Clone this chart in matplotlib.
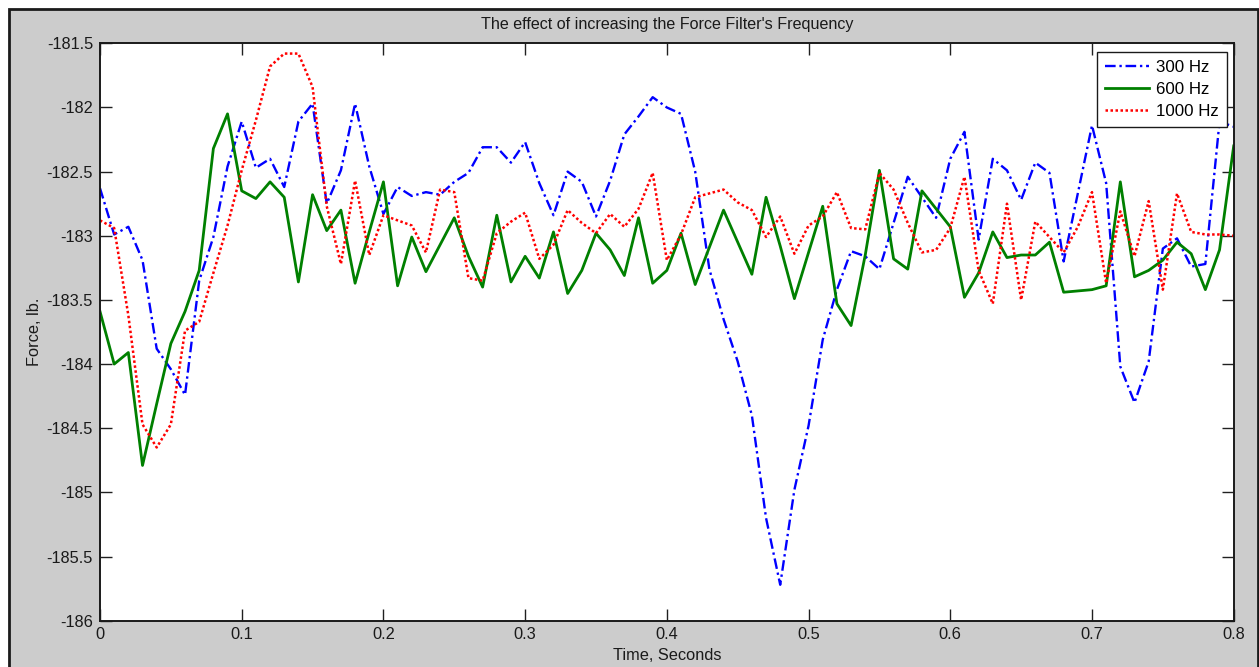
import numpy as np
import matplotlib
matplotlib.use("Agg")
import matplotlib.pyplot as plt
from matplotlib.patches import Rectangle

plt.rcParams['font.family'] = ['Liberation Sans', 'DejaVu Sans']

# Sample times (s)
time = np.round(np.arange(0, 0.801, 0.01), 2)

force_300 = [
    -182.63, -182.99, -182.93, -183.19, -183.88, -184.04, -184.24, -183.35, -183.01, -182.46,
    -182.11, -182.47, -182.40, -182.62, -182.11, -181.97, -182.75, -182.49, -181.97, -182.46,
    -182.83, -182.62, -182.69, -182.66, -182.68, -182.58, -182.51, -182.31, -182.31, -182.43,
    -182.27, -182.59, -182.84, -182.50, -182.58, -182.85, -182.57, -182.21, -182.07, -181.92,
    -182.00, -182.05, -182.50, -183.26, -183.65, -183.98, -184.40, -185.20, -185.72, -184.98,
    -184.48, -183.81, -183.42, -183.12, -183.16, -183.26, -182.90, -182.54, -182.70, -182.86,
    -182.40, -182.19, -183.03, -182.40, -182.49, -182.72, -182.43, -182.51, -183.20, -182.67,
    -182.14, -182.59, -184.02, -184.30, -183.98, -183.10, -183.02, -183.24, -183.22, -182.11,
    -182.15,
]

force_600 = [
    -183.59, -184.00, -183.91, -184.79, -184.31, -183.84, -183.59, -183.27, -182.32, -182.05,
    -182.65, -182.71, -182.58, -182.70, -183.36, -182.68, -182.96, -182.80, -183.37, -182.97,
    -182.58, -183.39, -183.01, -183.28, -183.07, -182.86, -183.16, -183.40, -182.84, -183.36,
    -183.16, -183.33, -182.97, -183.45, -183.27, -182.98, -183.11, -183.31, -182.86, -183.37,
    -183.27, -182.98, -183.38, -183.09, -182.80, -183.05, -183.30, -182.70, -183.08, -183.49,
    -183.13, -182.77, -183.53, -183.70, -183.15, -182.49, -183.18, -183.26, -182.65, -182.79,
    -182.93, -183.48, -183.29, -182.97, -183.17, -183.15, -183.15, -183.05, -183.44, -183.43,
    -183.42, -183.39, -182.58, -183.32, -183.27, -183.19, -183.05, -183.14, -183.42, -183.11,
    -182.30,
]

force_1000 = [
    -182.88, -182.94, -183.62, -184.47, -184.65, -184.47, -183.74, -183.67, -183.29, -182.92,
    -182.49, -182.10, -181.68, -181.58, -181.58, -181.84, -182.77, -183.22, -182.57, -183.15,
    -182.84, -182.88, -182.92, -183.13, -182.64, -182.66, -183.33, -183.35, -182.98, -182.89,
    -182.82, -183.18, -183.07, -182.80, -182.90, -182.98, -182.83, -182.93, -182.79, -182.51,
    -183.19, -182.99, -182.70, -182.67, -182.64, -182.74, -182.80, -183.01, -182.85, -183.14,
    -182.92, -182.85, -182.66, -182.94, -182.95, -182.51, -182.64, -182.90, -183.13, -183.11,
    -182.94, -182.54, -183.27, -183.53, -182.75, -183.50, -182.89, -183.01, -183.13, -182.93,
    -182.66, -183.37, -182.81, -183.16, -182.73, -183.42, -182.67, -182.97, -182.99, -182.99,
    -183.00,
]

series_labels = ["300 Hz", "600 Hz", "1000 Hz"]
x_ticks = [0, 0.1, 0.2, 0.3, 0.4, 0.5, 0.6, 0.7, 0.8]
y_ticks = [-186, -185.5, -185, -184.5, -184, -183.5, -183, -182.5, -182, -181.5]

W, H = 1259, 667
fig = plt.figure(figsize=(W / 100, H / 100), dpi=100, facecolor='white')

# grey window panel with dark frame
panel = Rectangle((8.5 / W, -0.01), (1258 - 8.5) / W, 1 - 9.5 / H + 0.01,
                  transform=fig.transFigure, facecolor='#cccccc',
                  edgecolor='#1a1a1a', linewidth=2.0, zorder=-10)
fig.patches.append(panel)

ax = fig.add_axes([100 / W, 1 - 620.7 / H, (1233.7 - 100) / W, (620.7 - 43.3) / H])
ax.set_facecolor('white')

ax.plot(time, force_300, color=(0, 0, 1), linewidth=1.7,
        dashes=(4.5, 1.6, 1.0, 1.6), label=series_labels[0])
ax.plot(time, force_600, color=(0, 0.5, 0), linewidth=2.0,
        linestyle='-', label=series_labels[1])
ax.plot(time, force_1000, color=(1, 0, 0), linewidth=1.8,
        dashes=(1.0, 1.0), label=series_labels[2])

ax.set_xlim(0, 0.8)
ax.set_ylim(-186, -181.5)
ax.set_xticks(x_ticks)
ax.set_xticklabels([f"{v:g}" for v in x_ticks])
ax.set_yticks(y_ticks)
ax.set_yticklabels([f"{v:g}" for v in y_ticks])

ax.tick_params(axis='both', which='major', direction='in', length=8.6, width=1.0,
               color='#202020', labelsize=11.8, top=True, right=True,
               labelcolor='#1a1a1a')
ax.tick_params(axis='x', pad=4.5)
ax.tick_params(axis='y', pad=5)
for sp in ax.spines.values():
    sp.set_linewidth(1.4)
    sp.set_color('#1a1a1a')

ax.set_xlabel("Time, Seconds", fontsize=11.8, color='#1a1a1a')
ax.xaxis.set_label_coords(0.5, -0.061)
ax.xaxis.label.set_va('center')
ax.set_ylabel("Force, lb.", fontsize=11.8, color='#1a1a1a')
ax.yaxis.set_label_coords(-0.058, 0.5)
ax.yaxis.label.set_va('center')

ax.text(0.5, 1.032, "The effect of increasing the Force Filter's Frequency",
        transform=ax.transAxes, ha='center', va='center', fontsize=11.6,
        color='#1a1a1a')

leg = ax.legend(loc='upper right', bbox_to_anchor=(1226.7 / W, 1 - 52 / H),
                bbox_transform=fig.transFigure, fontsize=12.2, frameon=True,
                fancybox=False, shadow=False, borderpad=0.48, labelspacing=0.4,
                handlelength=2.6, handletextpad=0.4, borderaxespad=0)
leg.get_frame().set_edgecolor('#1a1a1a')
leg.get_frame().set_linewidth(1.0)
leg.get_frame().set_facecolor('white')
leg.get_frame().set_alpha(1)

fig.savefig("out.png", dpi=100, facecolor=fig.get_facecolor())
